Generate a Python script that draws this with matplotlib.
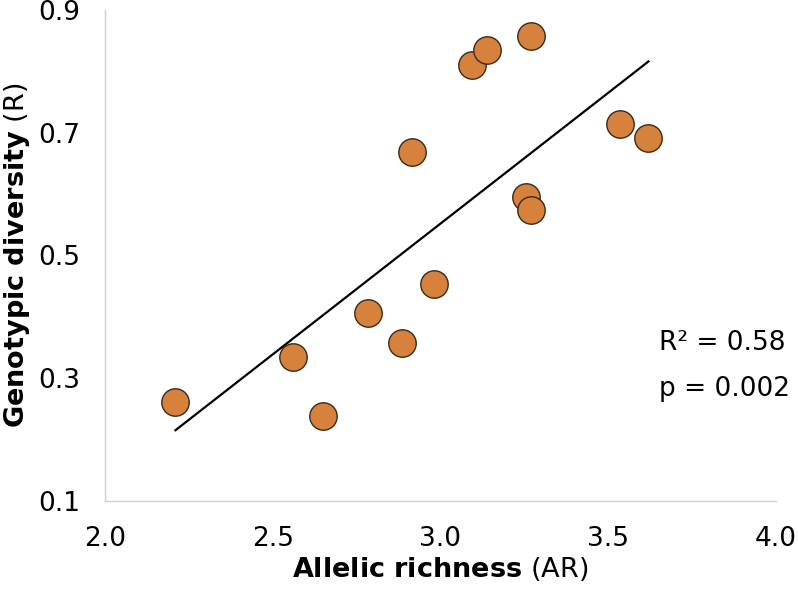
import numpy as np
import matplotlib
matplotlib.use('Agg')
import matplotlib.pyplot as plt

plt.rcParams['font.family'] = 'DejaVu Sans'
plt.rcParams['mathtext.fontset'] = 'dejavusans'

# données
ar = [2.21, 2.56, 2.65, 2.785, 2.885, 2.98, 2.915, 3.095, 3.14, 3.27, 3.255, 3.27, 3.535, 3.62]
r = [0.262, 0.335, 0.239, 0.406, 0.357, 0.454, 0.669, 0.810, 0.834, 0.858, 0.596, 0.574, 0.715, 0.691]
xticks = [2.0, 2.5, 3.0, 3.5, 4.0]
yticks = [0.1, 0.3, 0.5, 0.7, 0.9]
stats = ['R² = 0.58', 'p = 0.002']

fig = plt.figure(figsize=(7.98, 5.91), dpi=100)
ax = fig.add_axes([0.1316, 0.1523, 0.8408, 0.8308])

# droite de régression
a, b = np.polyfit(ar, r, 1)
xl = np.array([min(ar), max(ar)])
ax.plot(xl, a * xl + b, color='black', lw=1.6, zorder=2)

ax.scatter(ar, r, s=390, color='#D6813C', edgecolor='#3a2a18', linewidth=1.0, zorder=3)

ax.set_xlim(2.0, 4.0)
ax.set_ylim(0.1, 0.9)
ax.set_xticks(xticks)
ax.set_yticks(yticks)
ax.set_xticklabels(['%.1f' % t for t in xticks])
ax.set_yticklabels(['%.1f' % t for t in yticks])
ax.tick_params(length=0, labelsize=19, pad=18)

for s in ['top', 'right']:
    ax.spines[s].set_visible(False)
for s in ['left', 'bottom']:
    ax.spines[s].set_color('#d0d0d0')
    ax.spines[s].set_linewidth(1.0)

ax.set_xlabel(r'$\mathbf{Allelic\ richness}$ (AR)', fontsize=19.5, labelpad=2)
ax.set_ylabel(r'$\mathbf{Genotypic\ diversity}$ (R)', fontsize=19.5, labelpad=4)

ax.text(3.65, 0.357, stats[0], fontsize=19, va='center', ha='left')
ax.text(3.65, 0.282, stats[1], fontsize=19, va='center', ha='left')

fig.savefig('out.png', dpi=100)
